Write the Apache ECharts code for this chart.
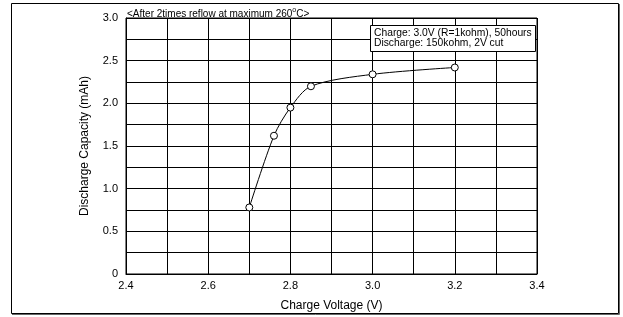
<!DOCTYPE html>
<html>
<head>
<meta charset="utf-8">
<script src="https://cdn.jsdelivr.net/npm/echarts@6/dist/echarts.min.js"></script>
<style>
  html, body { margin: 0; padding: 0; background: #fff; }
  #main { width: 623px; height: 317px; }
</style>
</head>
<body>
<div id="main"></div>
<script>
// charge voltage (V) vs discharge capacity (mAh)
var voltage = [2.7, 2.76, 2.8, 2.85, 3.0, 3.2];
var capacity = [0.78, 1.62, 1.95, 2.2, 2.34, 2.42];

var noteTitle = '<After 2times reflow at maximum 260';
var conditionLines = ['Charge: 3.0V (R=1kohm), 50hours', 'Discharge: 150kohm, 2V cut'];

var myChart = echarts.init(document.getElementById('main'));
var font = 'Liberation Sans, Arial, sans-serif';

var option = {
  animation: false,
  textStyle: { fontFamily: font },
  grid: {
    left: 126,
    right: 86,
    top: 18,
    bottom: 43,
    show: true,
    borderColor: '#000',
    borderWidth: 1
  },
  xAxis: {
    type: 'value',
    min: 2.4,
    max: 3.4,
    interval: 0.1,
    name: 'Charge Voltage (V)',
    nameLocation: 'middle',
    nameGap: 26,
    nameTextStyle: { color: '#000', fontSize: 12, fontFamily: font },
    axisLine: { lineStyle: { color: '#000', width: 1 } },
    axisTick: { show: false },
    axisLabel: {
      color: '#000',
      fontSize: 11,
      margin: 6,
      fontFamily: font,
      formatter: function (v) {
        return Math.round(v * 10) % 2 === 0 ? v.toFixed(1) : '';
      }
    },
    splitLine: { show: true, lineStyle: { color: '#000', width: 1 } }
  },
  yAxis: {
    type: 'value',
    min: 0,
    max: 3,
    interval: 0.25,
    name: 'Discharge Capacity (mAh)',
    nameLocation: 'middle',
    nameGap: 35,
    nameTextStyle: { color: '#000', fontSize: 12, fontFamily: font },
    axisLine: { show: true, lineStyle: { color: '#000', width: 1 } },
    axisTick: { show: false },
    axisLabel: {
      color: '#000',
      fontSize: 11,
      margin: 8,
      fontFamily: font,
      formatter: function (v) {
        if (Math.round(v * 100) % 50 !== 0) return '';
        return v === 0 ? '0' : v.toFixed(1);
      }
    },
    splitLine: { show: true, lineStyle: { color: '#000', width: 1 } }
  },
  series: [{
    type: 'line',
    data: voltage.map(function (v, i) { return [v, capacity[i]]; }),
    smooth: 0.3,
    symbol: 'circle',
    symbolSize: 7,
    lineStyle: { color: '#000', width: 1 },
    itemStyle: { color: '#fff', borderColor: '#000', borderWidth: 1 },
    z: 5
  }],
  graphic: [
    {
      type: 'rect',
      shape: { x: 11.5, y: 3.5, width: 607, height: 310 },
      style: { fill: 'none', stroke: '#000', lineWidth: 1 },
      silent: true
    },
    {
      type: 'polyline',
      shape: { points: [[619.5, 4], [619.5, 314.5], [12, 314.5]] },
      style: { fill: 'none', stroke: '#666', lineWidth: 1 },
      silent: true
    },
    {
      type: 'text',
      left: 127,
      top: 7,
      style: {
        text: '{a|' + noteTitle + '}{s|o}{a|C>}',
        rich: {
          a: { fontSize: 10, fontFamily: font, fill: '#000', verticalAlign: 'bottom', lineHeight: 12 },
          s: { fontSize: 7, fontFamily: font, fill: '#000', verticalAlign: 'top', lineHeight: 12, padding: [0, 0, 5, 0] }
        }
      }
    },
    {
      type: 'rect',
      shape: { x: 370.5, y: 25.5, width: 165, height: 26 },
      style: { fill: '#fff', stroke: '#000', lineWidth: 1 },
      z: 10
    },
    {
      type: 'text',
      left: 374,
      top: 28.5,
      z: 11,
      style: {
        text: conditionLines.join('\n'),
        fontSize: 10.3,
        lineHeight: 10,
        fontFamily: font,
        fill: '#000'
      }
    }
  ]
};

myChart.setOption(option);
</script>
</body>
</html>
